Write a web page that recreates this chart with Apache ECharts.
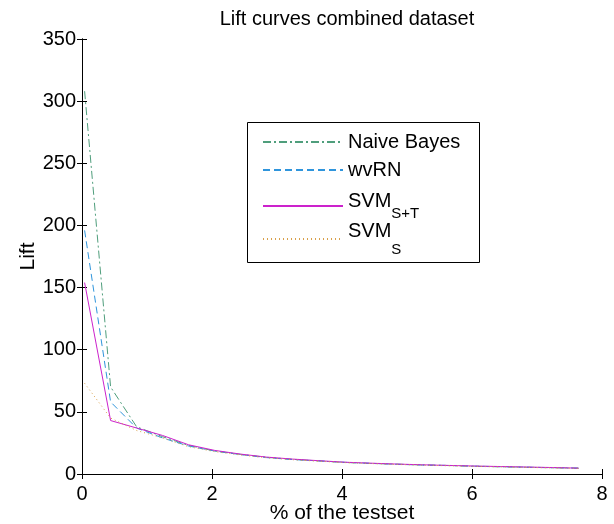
<!DOCTYPE html>
<html>
<head>
<meta charset="utf-8">
<script src="https://cdn.jsdelivr.net/npm/echarts@6/dist/echarts.min.js"></script>
<style>
    html, body { margin: 0; padding: 0; background: #fff; }
    #container { width: 614px; height: 524px; }
</style>
</head>
<body>
<div id="container"></div>
<script>
    // % of the testset
    var xPct = [0.04, 0.44, 0.84, 1.24, 1.64, 2.04, 2.44, 2.84, 3.24, 3.64,
                4.04, 4.44, 4.84, 5.24, 5.64, 6.04, 6.44, 6.84, 7.24, 7.64];
    var naiveBayes = [308, 70, 38, 30, 23, 18.5, 15.8, 13.4, 11.8, 10.5,
                      9.3, 8.5, 7.9, 7.3, 6.8, 6.2, 5.8, 5.4, 5.0, 4.6];
    var wvRN = [196, 58, 37, 29, 22.5, 18.5, 15.6, 13.2, 11.6, 10.6,
                9.4, 8.6, 7.8, 7.2, 6.9, 6.3, 5.9, 5.5, 5.1, 4.8];
    var svmST = [154, 43, 37, 31, 23.5, 19, 16, 13.6, 12, 10.7,
                 9.5, 8.7, 8.0, 7.4, 6.9, 6.4, 6.0, 5.6, 5.2, 4.7];
    var svmS = [73, 45, 35, 29, 22, 18, 15.3, 13.1, 11.5, 10.3,
                9.2, 8.4, 7.7, 7.1, 6.6, 6.1, 5.7, 5.3, 4.9, 4.6];
    var xTicks = [0, 2, 4, 6, 8];
    var yTicks = [0, 50, 100, 150, 200, 250, 300, 350];

    var names = ['Naive Bayes', 'wvRN', 'SVM S+T', 'SVM S'];
    var labels = {
        'Naive Bayes': '{m|Naive Bayes}',
        'wvRN': '{m|wvRN}',
        'SVM S+T': '{c|SVM}{st|S+T}',
        'SVM S': '{c|SVM}{s|S}'
    };
    var font = 'Liberation Sans, Arial, sans-serif';

    function pairs(ys) {
        return ys.map(function (y, i) { return [xPct[i], y]; });
    }

    function mkLegend(name, top) {
        return {
            data: [name],
            orient: 'vertical',
            left: 262,
            top: top,
            padding: 0,
            itemWidth: 80,
            itemHeight: 14,
            itemStyle: { opacity: 0 },
            formatter: function (n) { return labels[n]; },
            textStyle: {
                color: '#000',
                fontFamily: font,
                rich: {
                    m: { fontSize: 20, lineHeight: 20, fontFamily: font, color: '#000' },
                    c: { fontSize: 20, lineHeight: 20, verticalAlign: 'top', fontFamily: font, color: '#000' },
                    st: { fontSize: 15, lineHeight: 30, verticalAlign: 'bottom', fontFamily: font, color: '#000' },
                    s: { fontSize: 15, lineHeight: 36, verticalAlign: 'bottom', fontFamily: font, color: '#000' }
                }
            }
        };
    }

    var axisBase = {
        type: 'value',
        axisLine: { show: true, lineStyle: { color: '#000', width: 1 } },
        axisTick: { show: true, inside: true, length: 5, lineStyle: { color: '#000' } },
        splitLine: { show: false }
    };

    var chart = echarts.init(document.getElementById('container'));
    chart.setOption({
        animation: false,
        backgroundColor: '#fff',
        title: {
            text: 'Lift curves combined dataset',
            left: 342,
            textAlign: 'center',
            top: 4,
            textStyle: { fontFamily: font, fontSize: 20, fontWeight: 'normal', color: '#000' }
        },
        grid: { left: 82, right: 12, top: 39, bottom: 50, outerBoundsMode: 'none' },
        graphic: [{
            type: 'rect',
            z: 3,
            shape: { x: 247.5, y: 122.5, width: 232, height: 140 },
            style: { fill: '#fff', stroke: '#000', lineWidth: 1 }
        }],
        legend: [
            mkLegend(names[0], 132),
            mkLegend(names[1], 160),
            mkLegend(names[2], 191),
            mkLegend(names[3], 221)
        ],
        xAxis: [
            Object.assign({}, axisBase, {
                min: 0, max: 8, interval: 2,
                name: '% of the testset',
                nameLocation: 'middle',
                nameGap: 29,
                nameMoveOverlap: false,
                nameTextStyle: { fontFamily: font, fontSize: 21, color: '#000' },
                axisLabel: {
                    margin: 10, color: '#000', fontFamily: font, fontSize: 20,
                    formatter: function (v) { return xTicks.indexOf(v) >= 0 ? String(v) : ''; }
                }
            }),
            Object.assign({}, axisBase, {
                position: 'top', min: 0, max: 8, interval: 2,
                axisLabel: { show: false }
            })
        ],
        yAxis: [
            Object.assign({}, axisBase, {
                min: 0, max: 350, interval: 50,
                name: 'Lift',
                nameLocation: 'middle',
                nameGap: 43,
                nameMoveOverlap: false,
                nameTextStyle: { fontFamily: font, fontSize: 21, color: '#000' },
                axisLabel: {
                    margin: 6, color: '#000', fontFamily: font, fontSize: 20,
                    formatter: function (v) { return yTicks.indexOf(v) >= 0 ? String(v) : ''; }
                }
            }),
            Object.assign({}, axisBase, {
                position: 'right', min: 0, max: 350, interval: 50,
                axisLabel: { show: false }
            })
        ],
        series: [
            {
                name: names[0], type: 'line', symbol: 'none', data: pairs(naiveBayes),
                color: '#4f9e7c',
                lineStyle: { width: 1, color: '#4f9e7c', type: [8, 3, 2, 3] }
            },
            {
                name: names[1], type: 'line', symbol: 'none', data: pairs(wvRN),
                color: '#2f95dc',
                lineStyle: { width: 1, color: '#2f95dc', type: [7, 4] }
            },
            {
                name: names[2], type: 'line', symbol: 'none', data: pairs(svmST),
                color: '#cc22cc',
                lineStyle: { width: 1, color: '#cc22cc', type: 'solid' }
            },
            {
                name: names[3], type: 'line', symbol: 'none', data: pairs(svmS),
                color: '#d9a04a',
                lineStyle: { width: 1, color: '#d9a04a', type: [1, 3] }
            }
        ]
    });
</script>
</body>
</html>
